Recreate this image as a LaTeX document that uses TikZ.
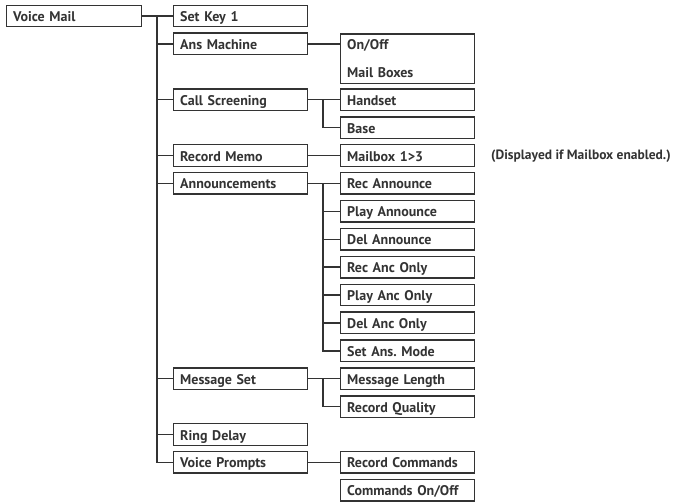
\documentclass[tikz,border=0pt]{standalone}
\usepackage{fontspec}
\setmainfont{PT Sans}
\usetikzlibrary{positioning}
\definecolor{linegray}{HTML}{333333}
\frenchspacing
\tikzset{
  menubox/.style={rectangle, draw=linegray, line width=1.4pt, anchor=west,
    minimum height=21.5pt, inner xsep=6.5pt, inner ysep=0pt, align=left,
    text height=12pt, text depth=1pt,
    font=\fontsize{14}{28}\selectfont\bfseries, text=linegray},
  branch/.style={draw=linegray, line width=1.4pt},
}
\begin{document}
\begin{tikzpicture}[x=1pt, y=-1pt]
  \def\rowh{27.9}
  \def\colA{6}
  \def\colB{173}
  \def\colC{340}
  \useasboundingbox (0,0) rectangle (674,501);

  % top level
  \node(vm) [menubox, text width=122pt] at (\colA,16) {Voice Mail};

  % first level
  \node(sk) [menubox, text width=121pt] at (\colB,16) {Set Key 1};
  \node(am) [menubox, text width=121pt] at (\colB,16+\rowh) {Ans Machine};
  \node(cs) [menubox, text width=121pt] at (\colB,16+3*\rowh) {Call Screening};
  \node(rm) [menubox, text width=121pt] at (\colB,16+5*\rowh) {Record Memo};
  \node(an) [menubox, text width=121pt] at (\colB,16+6*\rowh) {Announcements};
  \node(ms) [menubox, text width=121pt] at (\colB,16+13*\rowh) {Message Set};
  \node(rd) [menubox, text width=121pt] at (\colB,16+15*\rowh) {Ring Delay};
  \node(vp) [menubox, text width=121pt] at (\colB,16+16*\rowh) {Voice Prompts};

  % second level
  \node(oo) [menubox, text width=121pt, text height={}, text depth={}, minimum height=21.5pt+\rowh]
    at (\colC,17+1.5*\rowh) {On/Off\\Mail Boxes};
  \node(hs) [menubox, text width=121pt] at (\colC,16+3*\rowh) {Handset};
  \node(ba) [menubox, text width=121pt] at (\colC,16+4*\rowh) {Base};
  \node(mb) [menubox, text width=121pt] at (\colC,16+5*\rowh) {Mailbox 1>3};
  \node(ra) [menubox, text width=121pt] at (\colC,16+6*\rowh) {Rec Announce};
  \node(pa) [menubox, text width=121pt] at (\colC,16+7*\rowh) {Play Announce};
  \node(da) [menubox, text width=121pt] at (\colC,16+8*\rowh) {Del Announce};
  \node(ro) [menubox, text width=121pt] at (\colC,16+9*\rowh) {Rec Anc Only};
  \node(po) [menubox, text width=121pt] at (\colC,16+10*\rowh) {Play Anc Only};
  \node(do) [menubox, text width=121pt] at (\colC,16+11*\rowh) {Del Anc Only};
  \node(sm) [menubox, text width=121pt] at (\colC,16+12*\rowh) {Set Ans. Mode};
  \node(ml) [menubox, text width=121pt] at (\colC,16+13*\rowh) {Message Length};
  \node(rq) [menubox, text width=121pt] at (\colC,16+14*\rowh) {Record Quality};
  \node(rc) [menubox, text width=121pt] at (\colC,16+16*\rowh) {Record Commands};
  \node(co) [menubox, text width=121pt] at (\colC,16+17*\rowh) {Commands On/Off};

  \node(note) [anchor=west, font=\fontsize{13.5}{16}\selectfont\bfseries, text=linegray, inner sep=0pt]
    at (491,17+5*\rowh) {(Displayed if Mailbox enabled.)};

  % trunk
  \coordinate(t) at (157,16);
  \draw[branch] (vm) -- (sk);
  \draw[branch] (t) |- (vp.west);
  \foreach \n in {am,cs,rm,an,ms,rd}
    \draw[branch] (t |- \n.west) -- (\n.west);

  % second level connectors
  \coordinate(u) at (323,16);
  \draw[branch] (am.east) -- (am.east -| oo.west);
  \draw[branch] (cs) -- (hs);
  \draw[branch] (u |- hs.west) |- (ba.west);
  \draw[branch] (rm) -- (mb);
  \draw[branch] (an) -- (ra);
  \draw[branch] (u |- ra.west) |- (sm.west);
  \foreach \n in {pa,da,ro,po,do}
    \draw[branch] (u |- \n.west) -- (\n.west);
  \draw[branch] (ms) -- (ml);
  \draw[branch] (u |- ml.west) |- (rq.west);
  \draw[branch] (vp) -- (rc);
\end{tikzpicture}
\end{document}
